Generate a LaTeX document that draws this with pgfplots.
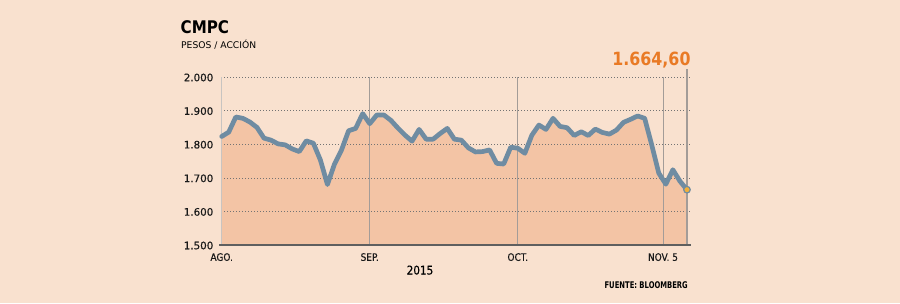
\documentclass[border=0pt]{standalone}
\usepackage{pgfplots}
\pgfplotsset{compat=1.18}
\usepackage{pgfplotstable}
\usepackage{fontspec}
\setmainfont{DejaVu Sans}[FakeStretch=0.87]
\newfontfamily\widefont{DejaVu Sans}
\newfontfamily\tickfont{DejaVu Sans}[FakeBold=0.35]
\newfontfamily\xtickfont{DejaVu Sans}[FakeStretch=0.87,FakeBold=0.35]
\newfontfamily\fuentefont{DejaVu Sans}[FakeStretch=0.74]
\definecolor{bg}{HTML}{F9E1CF}
\definecolor{area}{HTML}{F3C4A5}
\definecolor{linec}{HTML}{6F8CA2}
\definecolor{valc}{HTML}{E97A25}
\definecolor{mk}{HTML}{F2B03A}
\definecolor{axc}{HTML}{5F5F5F}
\definecolor{vl}{HTML}{A39C98}
\pgfplotstableread{
i v
0 1823
1 1836
2 1881
3 1877
4 1866
5 1850
6 1818
7 1812
8 1801
9 1798
10 1786
11 1778
12 1810
13 1803
14 1753
15 1680
16 1741
17 1783
18 1840
19 1847
20 1891
21 1861
22 1887
23 1887
24 1871
25 1848
26 1827
27 1809
28 1844
29 1815
30 1815
31 1832
32 1847
33 1815
34 1812
35 1789
36 1777
37 1778
38 1783
39 1743
40 1741
41 1791
42 1788
43 1773
44 1827
45 1857
46 1844
47 1877
48 1853
49 1849
50 1826
51 1837
52 1826
53 1845
54 1835
55 1830
56 1842
57 1865
58 1874
59 1884
60 1877
61 1798
62 1714
63 1681
64 1724
65 1690
66 1664.6
}\cmpc
\begin{document}
\begin{tikzpicture}[x=1pt,y=1pt]
\useasboundingbox (0,0) rectangle (900,303);
\fill[bg] (0,0) rectangle (900,303);
\begin{axis}[
  at={(221pt,58pt)}, anchor=south west,
  scale only axis, width=469pt, height=168pt,
  xmin=-0.1, xmax=66.43, ymin=1500, ymax=2000,
  clip=false,
  axis line style={draw=none},
  tick style={draw=none},
  major tick length=0pt,
  xtick={0,21,42,62.6},
  xticklabels={AGO.,SEP.,OCT.,NOV. 5},
  ytick={1500,1600,1700,1800,1900,2000},
  yticklabels={1.500,1.600,1.700,1.800,1.900,2.000},
  xticklabel style={font=\xtickfont\fontsize{10.3}{11}\selectfont, text=black!90, anchor=north, inner sep=0pt, yshift=-8pt},
  yticklabel style={font=\tickfont\fontsize{10.3}{11}\selectfont, text=black!90, anchor=east, inner sep=0pt, xshift=-7.5pt, yshift=-0.5pt},
]
\addplot[fill=area, draw=none] table[x=i,y=v] {\cmpc} \closedcycle;
\pgfplotsinvokeforeach{1600,1700,1800,1900,2000}{
  \draw[black!55, dash pattern=on 1pt off 2pt, line width=0.6pt] (axis cs:-0.1,#1) -- (axis cs:66.43,#1);
}
\draw[vl!60, line width=0.9pt] (axis cs:0,1500) -- (axis cs:0,2000);
\pgfplotsinvokeforeach{21,42,62.6}{
  \draw[vl, line width=0.8pt] (axis cs:#1,1500) -- (axis cs:#1,2000);
}
\draw[vl, line width=2pt] (axis cs:66,1500) -- (axis cs:66,2024);
\addplot[linec, line width=4.7pt, line join=round, line cap=round] table[x=i,y=v] {\cmpc};
\addplot[only marks, mark=*, mark size=3.3pt, mark options={fill=mk, draw=linec, line width=1.2pt}] coordinates {(66,1664.6)};
\draw[axc, line width=2pt] (axis cs:-0.35,1500) -- (axis cs:66.6,1500);
\end{axis}
\node[anchor=base west, inner sep=0pt, font=\bfseries\fontsize{17.4}{18}\selectfont] at (180.5,269.7) {CMPC};
\node[anchor=base west, inner sep=0pt, font=\widefont\fontsize{9.2}{10}\selectfont] at (181,254.7) {PESOS / ACCIÓN};
\node[anchor=base east, inner sep=0pt, text=valc, font=\bfseries\fontsize{18.2}{19}\selectfont] at (690.7,237) {1.664,60};
\node[anchor=base, inner sep=0pt, font=\xtickfont\fontsize{12}{13}\selectfont] at (420,28.5) {2015};
\node[anchor=base east, inner sep=0pt, font=\fuentefont\bfseries\fontsize{9.2}{10}\selectfont] at (688,15) {FUENTE: BLOOMBERG};
\end{tikzpicture}
\end{document}
